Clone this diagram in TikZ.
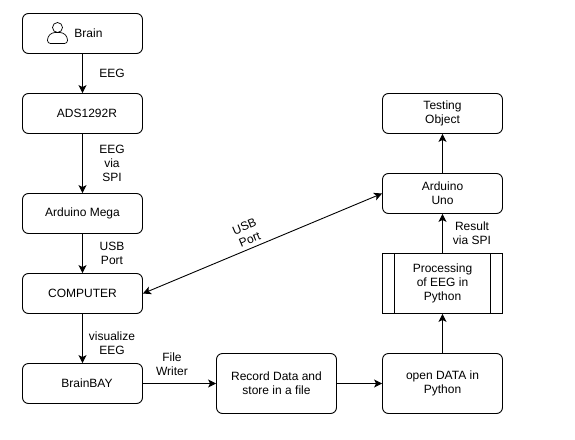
\documentclass[tikz,border=0pt]{standalone}
\usepackage{fontspec}
\setmainfont{Liberation Sans}
\usetikzlibrary{arrows.meta}
\tikzset{
  flowbox/.style={draw=black,line width=0.9pt,rounded corners=6pt,minimum width=120pt,minimum height=40pt,inner sep=0pt,align=center},
  procbox/.style={draw=black,line width=0.9pt,minimum width=120pt,minimum height=60pt,inner sep=0pt,align=center},
  flowlabel/.style={inner sep=0pt,align=center},
  flowline/.style={draw=black,line width=0.9pt,-{Stealth[length=8pt,width=8pt,inset=2pt]}}
}
\begin{document}
\begin{tikzpicture}[x=1pt,y=1pt,font=\fontsize{12}{14}\selectfont]
\useasboundingbox (0,-439) rectangle (575,0);
\path[fill=white] (0,-439) rectangle (575,0);
% left column:
\node[flowbox] (brain) at (82.5,-33.5) {\hspace*{12pt}Brain};
\node[flowbox] (ads) at (82.5,-113.5) {\hspace*{9pt}ADS1292R};
\node[flowbox] (mega) at (82.5,-213.5) {Arduino Mega};
\node[flowbox] (computer) at (82.5,-293.5) {COMPUTER};
\node[flowbox] (brainbay) at (82.5,-383.5) {\hspace*{9pt}BrainBAY};
% bottom row:
\node[flowbox,minimum height=60pt] (record) at (276.5,-383.5) {Record Data and\\store in a file};
\node[flowbox,minimum height=60pt] (opendata) at (442.5,-383.5) {open DATA in\\Python};
% right column:
\node[procbox] (processing) at (442.5,-283.5) {Processing\\of EEG in\\Python};
\node[flowbox] (uno) at (442.5,-193.5) {Arduino\\Uno};
\node[flowbox] (testing) at (442.5,-113.5) {Testing\\Object};
% side bars of the process box:
\path[draw=black,line width=0.9pt] (394.5,-253.5) -- (394.5,-313.5);
\path[draw=black,line width=0.9pt] (490.5,-253.5) -- (490.5,-313.5);
% person icon:
\path[draw=black,line width=0.7pt] (57.5,-27.5) circle (5);
\path[draw=black,line width=0.7pt,rounded corners=3pt] (47.5,-43.5) -- (47.5,-37) -- (52,-32.5) -- (63,-32.5) -- (67.5,-37) -- (67.5,-43.5) -- cycle;
% connectors:
\path[flowline] (brain) -- (ads);
\path[flowline] (ads) -- (mega);
\path[flowline] (mega) -- (computer);
\path[flowline] (computer) -- (brainbay);
\path[flowline] (brainbay) -- (record.west |- brainbay);
\path[flowline] (record) -- (opendata);
\path[flowline] (opendata) -- (processing);
\path[flowline] (processing) -- (uno);
\path[flowline] (uno) -- (testing);
\path[draw=black,line width=0.9pt,{Stealth[length=8pt,width=8pt,inset=2pt]}-{Stealth[length=8pt,width=8pt,inset=2pt]}] (computer.east) -- (uno.west);
% labels:
\node[flowlabel] (eegone) at (112,-73.5) {EEG};
\node[flowlabel] (eegspi) at (112,-163.5) {EEG\\via\\SPI};
\node[flowlabel] (usbone) at (112,-253.5) {USB\\Port};
\node[flowlabel] (viseeg) at (112,-343.5) {visualize\\EEG};
\node[flowlabel] (filewriter) at (172,-364) {File\\Writer};
\node[flowlabel] (result) at (472,-233.5) {Result\\via SPI};
\node[flowlabel,rotate=22.6] (usbtwo) at (247,-233) {USB\\Port};
\end{tikzpicture}
\end{document}
